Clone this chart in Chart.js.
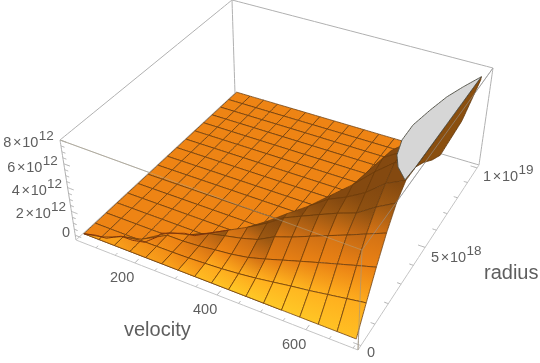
<!DOCTYPE html>
<html>
<head>
<meta charset="utf-8">
<title>velocity radius surface</title>
<script src="https://cdn.jsdelivr.net/npm/chart.js@4/dist/chart.umd.min.js"></script>
<style>
  html, body { margin: 0; padding: 0; background: #fff; }
  canvas { display: block; }
</style>
</head>
<body>
<canvas id="surfaceChart" width="540" height="363"></canvas>
<script>
// sampled mesh, velocity and radius (x10^18)
const velocityGrid = [60, 100, 140, 180, 220, 260, 300, 340, 380, 420, 460, 500, 540, 580, 620, 660, 700];
const radiusGrid = [0, 0.625, 1.25, 1.875, 2.5, 3.125, 3.75, 4.375, 5, 5.625, 6.25, 6.875, 7.5, 8.125, 8.75, 9.375, 10];

// flat sheet behind the ridge: height and how many velocity columns can be seen
const flatHeight = 0;
const flatColumns = 12;

// rising part in front of the ridge, height x10^12, one row per radius, null = past the ridge
const wallRows = [
  [0, 0, 0, 0, 0, 0, 0, 0, 0, 0, 0, 0, 0, 0, 0, 0, 0],
  [null, null, null, 0, 0.01, 0.02, 0.05, 0.12, 0.2, 0.33, 0.5, 0.72, 0.95, 1.15, 1.4, 1.65, 1.9],
  [null, null, null, null, 0.02, 0.03, 0.12, 0.3, 0.45, 0.7, 1.1, 1.55, 2, 2.45, 2.9, 3.35, 3.8],
  [null, null, null, null, null, null, 0.24, 0.55, 0.85, 1.25, 2, 2.5, 3.1, 3.7, 4.3, 4.95, 5.6],
  [null, null, null, null, null, null, null, null, null, 1.7, 2.65, 3.3, 3.95, 4.6, 5.15, 6.2, 7.1],
  [null, null, null, null, null, null, null, null, null, null, null, null, 4.3, 5, 5.9, 7.2, 8],
  [null, null, null, null, null, null, null, null, null, null, null, null, null, null, 6.7, 8, 8],
  [null, null, null, null, null, null, null, null, null, null, null, null, null, null, 7, 8, 8],
  [null, null, null, null, null, null, null, null, null, null, null, null, null, null, null, 8, 8]
];

// the ridge itself, one point per velocity column
const ridgeRadius = [0, 0.15, 0.5, 0.7, 1.4, 1.6, 1.9, 2.1, 2.3, 2.6, 2.7, 3, 3.31, 3.56, 5, 5, 5];
const ridgeHeight = [0, 0, 0, 0, 0.03, 0.05, 0.25, 0.7, 1.15, 1.75, 2.7, 3.4, 4.37, 5.4, 6.7, 8, 8];

// outline of the part clipped at the top of the box
const clipVelocity = [698, 671, 654, 643, 642, 652, 664, 680, 700, 700, 700, 700, 700];
const clipRadius = [3.13, 3.6, 4.13, 4.91, 5.81, 6.83, 7.8, 8.61, 9.49, 7.71, 6.32, 4.98, 3.85];

// brown strip under the clipped part, at the last velocity
const stripRadius = [3.85, 4.5, 5.3, 6.04, 7.9, 9.47, 9.49];
const stripHeight = [8, 7.4, 6.45, 5.8, 6.2, 7.75, 8];

// jagged crease at the low end
const creaseVelocity = [60, 86, 111, 135, 164, 190, 203, 205, 248, 272, 300, 340];
const creaseRadius = [0, 0.13, 0.17, 0.49, 0.5, 0.61, 1.01, 1.26, 1.62, 1.65, 1.9, 2.1];
const creaseHeight = [0, 0, 0, 0, 0, 0, 0, 0, 0, 0.05, 0.25, 0.7];

const velocityMajor = [200, 400, 600];
const velocityMinor = [100, 150, 250, 300, 350, 450, 500, 550, 650, 700];
const radiusMajor = [0, 5, 10];
const radiusMinor = [1, 2, 3, 4, 6, 7, 8, 9];
const heightMajor = [0, 2, 4, 6, 8];
const heightMinor = [0.5, 1, 1.5, 2.5, 3, 3.5, 4.5, 5, 5.5, 6.5, 7, 7.5];

// box limits
const velocityLo = 47, velocityHi = 710;
const radiusLo = -0.2, radiusHi = 10.2;
const heightLo = -0.4, heightHi = 8;

function makeQuad(p0, p1, p2, p3) {
  const sx = p0[0] - p1[0] + p2[0] - p3[0], sy = p0[1] - p1[1] + p2[1] - p3[1];
  const dx1 = p1[0] - p2[0], dx2 = p3[0] - p2[0], dy1 = p1[1] - p2[1], dy2 = p3[1] - p2[1];
  const den = dx1 * dy2 - dx2 * dy1;
  const g = (sx * dy2 - dx2 * sy) / den, h = (dx1 * sy - sx * dy1) / den;
  const a = p1[0] - p0[0] + g * p1[0], b = p3[0] - p0[0] + h * p3[0];
  const d = p1[1] - p0[1] + g * p1[1], e = p3[1] - p0[1] + h * p3[1];
  return (u, w) => {
    const q = g * u + h * w + 1;
    return [(a * u + b * w + p0[0]) / q, (d * u + e * w + p0[1]) / q];
  };
}

// view of the box: floor and lid as seen on the page
const floorQuad = makeQuad([76, 240], [358, 350], [479, 165], [235, 93]);
const lidQuad = makeQuad([60, 140], [362, 250], [493, 68], [232, 0]);

function project(v, r, z) {
  const u = (v - velocityLo) / (velocityHi - velocityLo);
  const w = (r - radiusLo) / (radiusHi - radiusLo);
  const t = (z - heightLo) / (heightHi - heightLo);
  const a = floorQuad(u, w), b = lidQuad(u, w);
  return { x: a[0] + (b[0] - a[0]) * t, y: a[1] + (b[1] - a[1]) * t };
}

function lineSet(points, color, width) {
  return {
    data: points, showLine: true, fill: false, pointRadius: 0,
    borderColor: color, borderWidth: width, tension: 0.0001
  };
}

function shapeSet(points, fillColor, lineColor, width) {
  return {
    data: points.concat([points[0]]), showLine: true, fill: "shape", pointRadius: 0,
    backgroundColor: fillColor, borderColor: lineColor, borderWidth: width, tension: 0.0001
  };
}

function edge(a, b, color, width) {
  return lineSet([project(a[0], a[1], a[2]), project(b[0], b[1], b[2])], color, width);
}

// colours of the surface
const shadeStops = [
  [0, 95, 50, 12], [0.3, 150, 85, 18], [0.5, 205, 110, 20],
  [0.7, 238, 132, 20], [0.85, 255, 175, 30], [1, 255, 200, 38]
];

function shadeColor(t) {
  t = Math.max(0, Math.min(1, t));
  for (let n = 1; n < shadeStops.length; n++) {
    if (t <= shadeStops[n][0]) {
      const a = shadeStops[n - 1], b = shadeStops[n];
      const f = (t - a[0]) / (b[0] - a[0]);
      return `rgb(${Math.round(a[1] + (b[1] - a[1]) * f)},${Math.round(a[2] + (b[2] - a[2]) * f)},${Math.round(a[3] + (b[3] - a[3]) * f)})`;
    }
  }
  return "rgb(255,200,38)";
}

// one corner of the rising part, stops on the ridge
function wallVertex(i, k) {
  if (radiusGrid[k] >= ridgeRadius[i]) return [velocityGrid[i], ridgeRadius[i], ridgeHeight[i]];
  return [velocityGrid[i], radiusGrid[k], wallRows[k][i]];
}

function wallCellShown(i, k) {
  if (k < 0 || k >= wallRows.length - 1 || i < 0 || i >= velocityGrid.length - 1) return false;
  if (k > 0 && radiusGrid[k - 1] >= ridgeRadius[i]) return false;
  return !(radiusGrid[k] >= ridgeRadius[i] && radiusGrid[k] >= ridgeRadius[i + 1]);
}

function wallCellShade(i, k) {
  const a = wallVertex(i, k), b = wallVertex(i + 1, k), c = wallVertex(i + 1, k + 1), d = wallVertex(i, k + 1);
  const scale = 16 / (heightHi - heightLo);
  const sx = ((b[2] - a[2]) + (c[2] - d[2])) / 2 * scale;
  const rows = Math.max(0.4, ((d[1] - a[1]) + (c[1] - b[1])) / 2 / 0.625);
  const sy = ((d[2] - a[2]) + (c[2] - b[2])) / 2 / rows * scale;
  const mean = (a[2] + b[2] + c[2] + d[2]) / 4;
  const lit = (-0.8 * sx + 0.85 * sy + 0.7 - 0.05 * Math.max(0, sy - 2)) / Math.sqrt(1 + sx * sx + sy * sy);
  // the high end turns brown, the front row stays bright
  const shade = lit - 0.1 * i / 16 - 0.45 * Math.max(0, (mean - 6) / 2) + (k === 0 ? 0.1 : 0);
  // upper rows stay in the brown range so they read as one band
  if (k < 3) return shade;
  return Math.max(0.2, Math.min(shade, 0.5 - (Math.min(k, 5) - 3) * 0.12));
}

function edgeShade(i, k, other) {
  const own = wallCellShade(i, k);
  if (!wallCellShown(i, other)) return own;
  const next = wallCellShade(i, other);
  return Math.abs(next - own) > 0.35 ? own : (next + own) / 2;
}

function wallFill(i, k) {
  const a = wallVertex(i, k), b = wallVertex(i + 1, k), c = wallVertex(i + 1, k + 1), d = wallVertex(i, k + 1);
  const from = project((a[0] + b[0]) / 2, (a[1] + b[1]) / 2, (a[2] + b[2]) / 2);
  const to = project((c[0] + d[0]) / 2, (c[1] + d[1]) / 2, (c[2] + d[2]) / 2);
  const low = shadeColor(edgeShade(i, k, k - 1));
  const high = shadeColor(edgeShade(i, k, k + 1));
  return function (ctx) {
    const sx = ctx.chart.scales.x, sy = ctx.chart.scales.y;
    const x0 = sx.getPixelForValue(from.x), y0 = sy.getPixelForValue(from.y);
    const x1 = sx.getPixelForValue(to.x), y1 = sy.getPixelForValue(to.y);
    // scales are not laid out on the first pass
    if (![x0, y0, x1, y1].every(Number.isFinite)) return low;
    const g = ctx.chart.ctx.createLinearGradient(x0, y0, x1, y1);
    g.addColorStop(0, low);
    g.addColorStop(1, high);
    return g;
  };
}

const boxColor = "#b0b0b0";
const faintColor = "rgba(175,165,140,0.5)";
const meshColor = "rgba(105,58,10,0.85)";

// painted back to front, reversed at the end since Chart.js paints the first set last
const sets = [];

// box edges behind the surface
const vL = velocityLo, vH = velocityHi, rL = radiusLo, rH = radiusHi, zL = heightLo, zH = heightHi;
sets.push(edge([vL, rH, zL], [vL, rH, zH], boxColor, 1));
sets.push(edge([vL, rH, zH], [vL, rL, zH], boxColor, 1));
sets.push(edge([vL, rH, zH], [vH, rH, zH], boxColor, 1));
sets.push(edge([vH, rH, zL], [vH, rH, zH], boxColor, 1));
sets.push(edge([vH, rH, zH], [vH, rL, zH], boxColor, 1));
sets.push(edge([vL, rL, zH], [vH, rL, zH], boxColor, 1));
sets.push(edge([vL, rL, zL], [vL, rL, zH], boxColor, 1));
sets.push(edge([vL, rL, zL], [vL, rH, zL], "#c4c4c4", 1));
sets.push(edge([vL, rH, zL], [vH, rH, zL], boxColor, 1));
sets.push(edge([vL, rL, zL], [vH, rL, zL], "#c4c4c4", 1));
sets.push(edge([vH, rL, zL], [vH, rH, zL], "#c4c4c4", 1));
sets.push(edge([vH, rL, zL], [vH, rL, zH], boxColor, 1));

// ticks
velocityMajor.forEach(v => sets.push(edge([v, rL, zL], [v, rL + 0.22, zL], boxColor, 1)));
velocityMinor.forEach(v => sets.push(edge([v, rL, zL], [v, rL + 0.12, zL], boxColor, 1)));
radiusMajor.forEach(r => sets.push(edge([vH, r, zL], [vH - 16, r, zL], boxColor, 1)));
radiusMinor.forEach(r => sets.push(edge([vH, r, zL], [vH - 9, r, zL], boxColor, 1)));
heightMajor.forEach(z => sets.push(edge([vL, rL, z], [vL + 16, rL, z], boxColor, 1)));
heightMinor.forEach(z => sets.push(edge([vL, rL, z], [vL + 9, rL, z], boxColor, 1)));

// strip under the clipped sheet
sets.push(shapeSet(stripRadius.map((r, n) => project(700, r, stripHeight[n])), "#8a4f0f", "#5e3308", 0.8));

// flat sheet, far rows first
for (let k = radiusGrid.length - 2; k >= 0; k--) {
  for (let i = 0; i < flatColumns; i++) {
    sets.push(shapeSet([
      project(velocityGrid[i], radiusGrid[k], flatHeight),
      project(velocityGrid[i + 1], radiusGrid[k], flatHeight),
      project(velocityGrid[i + 1], radiusGrid[k + 1], flatHeight),
      project(velocityGrid[i], radiusGrid[k + 1], flatHeight)
    ], shadeColor(0.7), meshColor, 0.9));
  }
}

// rising part, far rows first
for (let k = wallRows.length - 2; k >= 0; k--) {
  for (let i = 0; i < velocityGrid.length - 1; i++) {
    if (!wallCellShown(i, k)) continue;
    const pts = [wallVertex(i, k), wallVertex(i + 1, k), wallVertex(i + 1, k + 1), wallVertex(i, k + 1)]
      .map(p => project(p[0], p[1], p[2]));
    sets.push(shapeSet(pts, wallFill(i, k), meshColor, 0.9));
  }
}

sets.push(lineSet(creaseVelocity.map((v, n) => project(v, creaseRadius[n], creaseHeight[n])), "#7d2f0a", 1));

// sheet clipped at the top
sets.push(shapeSet(clipVelocity.map((v, n) => project(v, clipRadius[n], heightHi)), "#d6d6d6", "#4a4a40", 0.9));

// front edges seen across the surface
sets.push(edge([vL, rL, zH], [vH, rL, zH], faintColor, 1));
sets.push(edge([vH, rL, zL], [vH, rL, zH], "rgba(165,150,125,0.7)", 1));
sets.push(edge([vH, rL, zH], [vH, rH, zH], "rgba(150,150,150,0.6)", 1));

// text of the axes
const textColor = "#5e5e5e";
const powerLabels = [
  ["8", "12", 3.3, 147], ["6", "12", 7.3, 172], ["4", "12", 11.7, 195], ["2", "12", 15.7, 218],
  ["5", "18", 431, 262], ["1", "19", 483, 181]
];
const plainLabels = [
  ["0", 62, 237, 14.5], ["200", 110, 282, 14.5], ["400", 193, 314, 14.5], ["600", 282, 349, 14.5],
  ["0", 367, 357, 14.5], ["velocity", 124, 336, 20], ["radius", 484, 279, 20]
];

const axisText = {
  id: "axisText",
  afterDraw(chart) {
    const ctx = chart.ctx;
    ctx.save();
    ctx.fillStyle = textColor;
    ctx.textBaseline = "alphabetic";
    plainLabels.forEach(l => {
      ctx.font = l[3] + 'px "Liberation Sans"';
      ctx.fillText(l[0], l[1], l[2]);
    });
    powerLabels.forEach(l => {
      ctx.font = '14.5px "Liberation Sans"';
      ctx.fillText(l[0], l[2], l[3]);
      ctx.fillText("\u00d7", l[2] + 9.8, l[3]);
      ctx.fillText("10", l[2] + 19, l[3]);
      ctx.font = '13.5px "Liberation Sans"';
      ctx.fillText(l[1], l[2] + 35.4, l[3] - 7);
    });
    ctx.restore();
  }
};

new Chart(document.getElementById("surfaceChart").getContext("2d"), {
  type: "scatter",
  data: { datasets: sets.reverse() },
  plugins: [axisText],
  options: {
    responsive: false,
    animation: false,
    events: [],
    layout: { padding: 0 },
    plugins: { legend: { display: false }, tooltip: { enabled: false } },
    scales: {
      x: { type: "linear", display: false, min: 0, max: 540 },
      y: { type: "linear", display: false, min: 0, max: 363, reverse: true }
    }
  }
});
</script>
</body>
</html>
